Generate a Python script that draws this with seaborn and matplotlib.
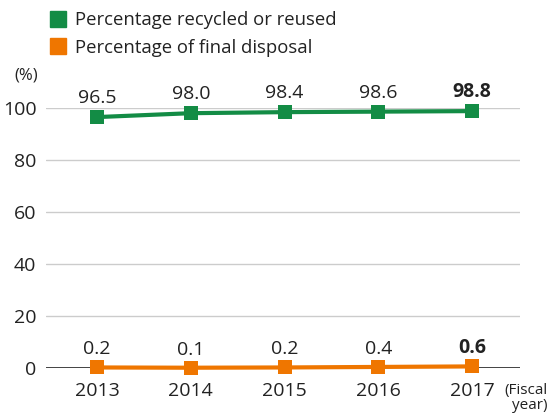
import matplotlib
matplotlib.use("Agg")
import matplotlib.pyplot as plt
import seaborn as sns
import pandas as pd
from matplotlib.lines import Line2D

# Datos
years = [2013, 2014, 2015, 2016, 2017]
recycled = [96.5, 98.0, 98.4, 98.6, 98.8]
disposal = [0.2, 0.1, 0.2, 0.4, 0.6]
yticks = [0, 20, 40, 60, 80, 100]

green = "#138c45"
orange = "#ef7600"

sns.set_theme(style="white")
plt.rcParams["font.family"] = ["Open Sans", "DejaVu Sans"]

df = pd.DataFrame({"year": years * 2,
                   "value": recycled + disposal,
                   "serie": ["rec"] * 5 + ["disp"] * 5})

fig = plt.figure(figsize=(5.49, 4.15), dpi=100)
ax = fig.add_axes([0.084, 0.1133, 0.863, 0.6265])

sns.lineplot(data=df, x="year", y="value", hue="serie",
             palette={"rec": green, "disp": orange}, marker="s",
             markersize=10, markeredgewidth=0, linewidth=3,
             legend=False, ax=ax, clip_on=False, zorder=5)

ax.set_xlim(2012.457, 2017.51)
ax.set_ylim(0, 100)
ax.set_yticks(yticks)
ax.set_xticks(years)
ax.tick_params(axis="both", length=0, labelsize=14, colors="#222222")
ax.tick_params(axis="x", pad=10)
ax.tick_params(axis="y", pad=7)
for y in yticks[1:]:
    ax.axhline(y, color="#cccccc", lw=1, zorder=1)
ax.axhline(0, color="#222222", lw=1.2, zorder=2)
for s in ax.spines.values():
    s.set_visible(False)
ax.set_xlabel("")
ax.set_ylabel("")

# etiquetas de valores
for i, (x, r, d) in enumerate(zip(years, recycled, disposal)):
    w = "bold" if i == len(years) - 1 else "normal"
    ax.annotate(f"{r:.1f}", (x, r), xytext=(0, 10), textcoords="offset points",
                ha="center", va="baseline", fontsize=14, fontweight=w, color="#222222")
    ax.annotate(f"{d:.1f}", (x, d), xytext=(0, 9.5), textcoords="offset points",
                ha="center", va="baseline", fontsize=14, fontweight=w, color="#222222")

fig.text(14 / 549, 1 - 75 / 415, "(%)", fontsize=12, ha="left", va="center", color="#222222")
fig.text(548 / 549, 1 - 398 / 415, "(Fiscal\n year)", fontsize=11, ha="right", va="center",
         color="#222222", linespacing=1.0)

handles = [Line2D([], [], marker="s", ls="", color=green, markersize=11.5),
           Line2D([], [], marker="s", ls="", color=orange, markersize=11.5)]
fig.legend(handles, ["Percentage recycled or reused", "Percentage of final disposal"],
           loc="upper left", bbox_to_anchor=(40 / 549, 1 - 4 / 415), frameon=False,
           fontsize=13.3, handletextpad=0.3, labelspacing=0.5, handlelength=1.2,
           labelcolor="#222222", borderaxespad=0)

fig.savefig("out.png", dpi=100)
